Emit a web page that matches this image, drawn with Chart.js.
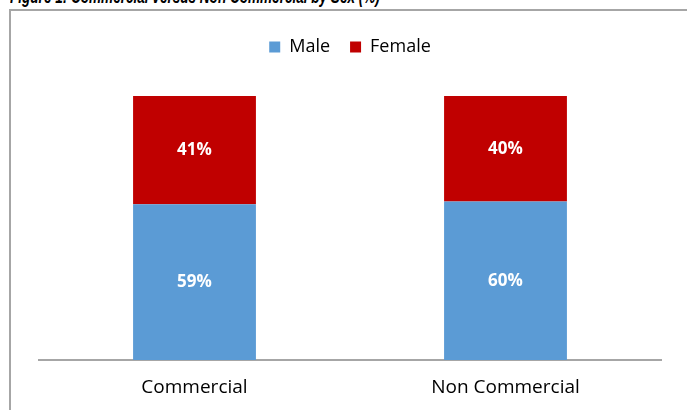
<!DOCTYPE html>
<html>
<head>
<meta charset="utf-8">
<script src="https://cdn.jsdelivr.net/npm/chart.js@4.4.1/dist/chart.umd.min.js"></script>
<style>
    html, body { margin: 0; padding: 0; background: #fff; overflow: hidden; }
    #wrap { position: relative; width: 687px; height: 410px; overflow: hidden; }
    #frame {
        position: absolute; left: 9px; top: 9px; width: 700px; height: 420px;
        border-top: 2px solid #a6a6a6; border-left: 2px solid #a6a6a6;
    }
    #fig-title {
        position: absolute; left: 10px; top: -15px; white-space: nowrap;
        font: italic bold 20px "Liberation Sans", sans-serif; color: #000;
        transform-origin: 0 0;
    }
    #myChart { position: absolute; left: 0; top: 0; }
</style>
</head>
<body>
<div id="wrap">
    <div id="frame"></div>
    <div id="fig-title">Figure 1: Commercial versus Non Commercial by Sex (%)</div>
    <canvas id="myChart" width="687" height="410"></canvas>
</div>
<script>
const labels = ['Commercial', 'Non Commercial'];
const maleShare = [59, 60];
const femaleShare = [41, 40];

var Figure = function () {

    //********************************************************************************//
    //                            Global variables
    //********************************************************************************//
    var chart;
    const font = '"Open Sans", sans-serif';

    // writes the share inside each bar segment
    const segmentLabels = {
        id: 'segmentLabels',
        afterDatasetsDraw: function (c) {
            const ctx = c.ctx;
            ctx.save();
            ctx.fillStyle = '#ffffff';
            ctx.font = 'bold 17px ' + font;
            ctx.textAlign = 'center';
            ctx.textBaseline = 'middle';
            c.data.datasets.forEach(function (ds, i) {
                c.getDatasetMeta(i).data.forEach(function (bar, j) {
                    ctx.fillText(ds.data[j] + '%', bar.x, (bar.y + bar.base) / 2);
                });
            });
            ctx.restore();
        }
    };

    // leaves extra room between the legend and the bars
    const legendGap = {
        id: 'legendGap',
        beforeInit: function (c) {
            const fit = c.legend.fit;
            c.legend.fit = function () {
                fit.call(this);
                this.height += 30;
            };
        }
    };

    const data = {
        labels: labels,
        datasets: [{
            label: 'Male',
            data: maleShare,
            backgroundColor: '#5b9bd5',
            barPercentage: 1,
            categoryPercentage: 0.395
        },
            {
                label: 'Female',
                data: femaleShare,
                backgroundColor: '#c00000',
                barPercentage: 1,
                categoryPercentage: 0.395
            }
        ]
    };

    const config = {
        type: 'bar',
        data: data,
        plugins: [segmentLabels, legendGap],
        options: {
            responsive: false,
            animation: false,
            layout: { padding: { left: 39, right: 26, top: 18, bottom: 0 } },
            plugins: {
                legend: {
                    position: 'top',
                    labels: {
                        boxWidth: 11, boxHeight: 11, padding: 20,
                        color: '#000', font: { family: font, size: 18 }
                    }
                },
                tooltip: { enabled: false }
            },
            scales: {
                x: {
                    stacked: true,
                    grid: { display: false, drawTicks: false },
                    border: { color: '#a6a6a6', width: 2 },
                    ticks: { color: '#000', padding: 16, font: { family: font, size: 19 } },
                    afterFit: function (scale) {
                        scale.height = 50;
                    }
                },
                y: {
                    stacked: true,
                    display: false,
                    min: 0,
                    max: 100
                }
            }
        }
    };

    //********************************************************************************//
    //                            Initializations
    //********************************************************************************//
    var fitTitle = function () {
        var t = document.getElementById('fig-title');
        t.style.transform = 'scaleX(' + (370 / t.offsetWidth) + ')';
    }

    var initChart = function () {
        chart = new Chart(document.getElementById('myChart'), config);
    }

    return {
        init: function () {
            fitTitle();
            initChart();
        },
    };
}();

window.addEventListener('load', function () {
    Figure.init();
});
</script>
</body>
</html>
